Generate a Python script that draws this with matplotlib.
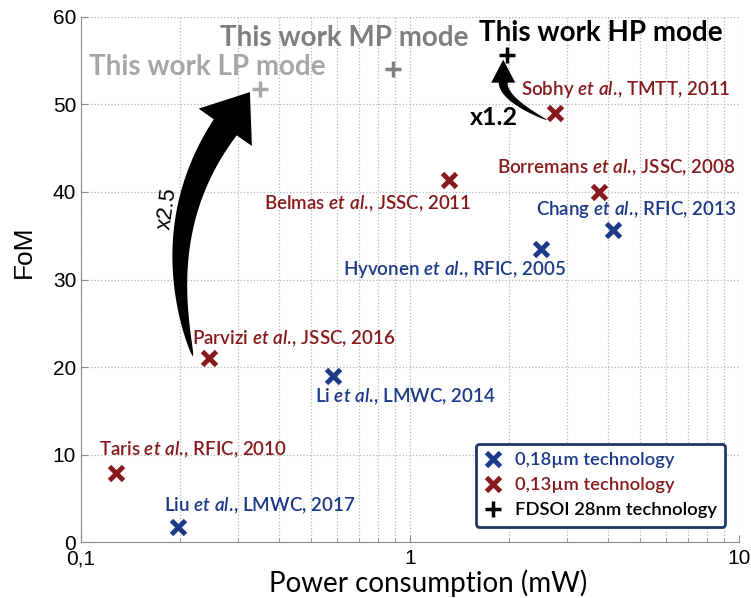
import numpy as np
import matplotlib.pyplot as plt
from matplotlib.lines import Line2D
from matplotlib.patches import Polygon
from matplotlib.transforms import IdentityTransform
from matplotlib.ticker import FixedLocator, FixedFormatter, LogLocator, NullFormatter

plt.rcParams['mathtext.fontset'] = 'custom'
plt.rcParams['mathtext.rm'] = 'Lato:semibold'
plt.rcParams['mathtext.it'] = 'Lato:italic:semibold'

BLUE = '#1d3a8a'
RED = '#861a1d'

# 0,18um designs
ref18_authors = ['Liu', 'Li', 'Hyvonen', 'Chang']
ref18_venue = ['LMWC, 2017', 'LMWC, 2014', 'RFIC, 2005', 'RFIC, 2013']
ref18_power = [0.197, 0.584, 2.5, 4.14]
ref18_fom = [1.8, 19, 33.5, 35.7]
ref18_offset = [(82, 21), (72, -21), (-87, -21), (23, 20)]

# 0,13um designs
ref13_authors = ['Taris', 'Parvizi', 'Belmas', 'Borremans', 'Sobhy']
ref13_venue = ['RFIC, 2010', 'JSSC, 2016', 'JSSC, 2011', 'JSSC, 2008', 'TMTT, 2011']
ref13_power = [0.128, 0.245, 1.31, 3.75, 2.76]
ref13_fom = [7.9, 21, 41.4, 40, 49]
ref13_offset = [(77, 23), (85, 20), (-81, -24), (17, 24), (71, 24)]

# this work, FDSOI 28nm
work_modes = ['LP', 'MP', 'HP']
work_power = [0.35, 0.887, 1.97]
work_fom = [51.7, 54, 55.6]
work_colors = ['#a6a6a6', '#7f7f7f', 'black']
work_offset = [(-53, 22), (-49, 31), (94, 22)]

fig = plt.figure(figsize=(7.51, 5.98), dpi=100)
ax = fig.add_axes([0.108, 0.093, 0.876, 0.879])

ax.set_xscale('log')
ax.set_xlim(0.1, 10)
ax.set_ylim(0, 60)

ax.xaxis.set_major_locator(FixedLocator([0.1, 1, 10]))
ax.xaxis.set_major_formatter(FixedFormatter(['0,1', '1', '10']))
ax.xaxis.set_minor_locator(LogLocator(base=10, subs=np.arange(2, 10)))
ax.xaxis.set_minor_formatter(NullFormatter())
ax.set_yticks(np.arange(0, 61, 10))

ax.grid(True, which='both', axis='x', linestyle=':', color='#b5b5b5', lw=0.9)
ax.grid(True, which='major', axis='y', linestyle=':', color='#b5b5b5', lw=0.9)
ax.set_axisbelow(True)

for s in ['top', 'right']:
    ax.spines[s].set_visible(False)
for s in ['left', 'bottom']:
    ax.spines[s].set_color('#8c8c8c')

ax.tick_params(which='both', direction='in', color='#8c8c8c', labelsize=15)
ax.tick_params(which='major', length=5)
ax.tick_params(which='minor', length=3)
ax.tick_params(axis='x', pad=5)
for lab in ax.get_xticklabels() + ax.get_yticklabels():
    lab.set_fontfamily('Liberation Sans')

ax.set_xlabel('Power consumption (mW)', fontsize=20, family='Lato')
ax.xaxis.set_label_coords(0.527, -0.052)
ax.set_ylabel('FoM', fontsize=19, family='Liberation Sans')
ax.yaxis.set_label_coords(-0.068, 0.552)

mk = dict(marker='x', ms=10, mew=3.5, ls='none', zorder=5)
ax.plot(ref18_power, ref18_fom, color=BLUE, **mk)
ax.plot(ref13_power, ref13_fom, color=RED, **mk)
for p, f, c in zip(work_power, work_fom, work_colors):
    ax.plot(p, f, marker='+', ms=11, mew=2.5, color=c, ls='none', zorder=5)


def cite(name, venue):
    return name + r' $\mathit{et\ al.}\!$, ' + venue


for names, venues, xs, ys, offs, col in [
        (ref18_authors, ref18_venue, ref18_power, ref18_fom, ref18_offset, BLUE),
        (ref13_authors, ref13_venue, ref13_power, ref13_fom, ref13_offset, RED)]:
    for n, v, x, y, o in zip(names, venues, xs, ys, offs):
        ax.annotate(cite(n, v), (x, y), xytext=o, textcoords='offset pixels',
                    ha='center', va='center', color=col, fontsize=13.5,
                    family='Lato', fontweight='semibold')

for m, x, y, c, o in zip(work_modes, work_power, work_fom, work_colors, work_offset):
    ax.annotate('This work %s mode' % m, (x, y), xytext=o, textcoords='offset pixels',
                ha='center', va='center', color=c, fontsize=20, family='Lato',
                fontweight='bold')


def curved_arrow(tail, ctrl, tip, tail_w, head_w, head_len, n=80):
    # tapered arrow along a quadratic curve, widths in pixels
    T, C, H = (ax.transData.transform(p) for p in (tail, ctrl, tip))
    d = (H - C) / np.hypot(*(H - C))
    B = H - head_len * d
    t = np.linspace(0, 1, n)[:, None]
    pts = (1 - t) ** 2 * T + 2 * (1 - t) * t * C + t ** 2 * B
    der = 2 * (1 - t) * (C - T) + 2 * t * (B - C)
    nrm = np.column_stack([-der[:, 1], der[:, 0]]) / np.hypot(der[:, 0], der[:, 1])[:, None]
    half = tail_w / 2 * t ** 0.6
    left = pts + nrm * half
    right = pts - nrm * half
    nd = np.array([-d[1], d[0]])
    head = np.array([B + nd * head_w / 2, H, B - nd * head_w / 2])
    poly = np.vstack([left, head, right[::-1]])
    ax.add_patch(Polygon(poly, closed=True, fc='black', ec='none',
                         transform=IdentityTransform(), zorder=4, clip_on=False))


# improvement arrows
curved_arrow((0.219, 21.2), (0.169, 36.1), (0.326, 51.4), 28, 65, 43)
ax.text(0.183, 38.1, 'x2.5', rotation=82, ha='center', va='center',
        fontsize=16, family='Liberation Sans')

curved_arrow((2.61, 48.2), (1.92, 50.6), (1.92, 55.1), 9, 24, 23)
ax.text(1.80, 48.5, 'x1.2', ha='center', va='center', fontsize=18,
        family='Lato', fontweight='bold')

handles = [
    Line2D([], [], marker='x', ms=10, mew=3.5, ls='none', color=BLUE),
    Line2D([], [], marker='x', ms=10, mew=3.5, ls='none', color=RED),
    Line2D([], [], marker='+', ms=11, mew=2.5, ls='none', color='black'),
]
leg = ax.legend(handles, ['0,18µm technology', '0,13µm technology', 'FDSOI 28nm technology'],
                loc='lower right', bbox_to_anchor=(0.979, 0.03),
                labelcolor=[BLUE, RED, 'black'],
                prop={'family': 'Lato', 'size': 13.2, 'weight': 'semibold'},
                frameon=True, fancybox=True, framealpha=1, handletextpad=0.7,
                handlelength=1.0, borderpad=0.45, labelspacing=0.5,
                borderaxespad=0)
leg.get_frame().set_edgecolor('#1f3864')
leg.get_frame().set_linewidth(2)

fig.savefig('out.png', dpi=100)
